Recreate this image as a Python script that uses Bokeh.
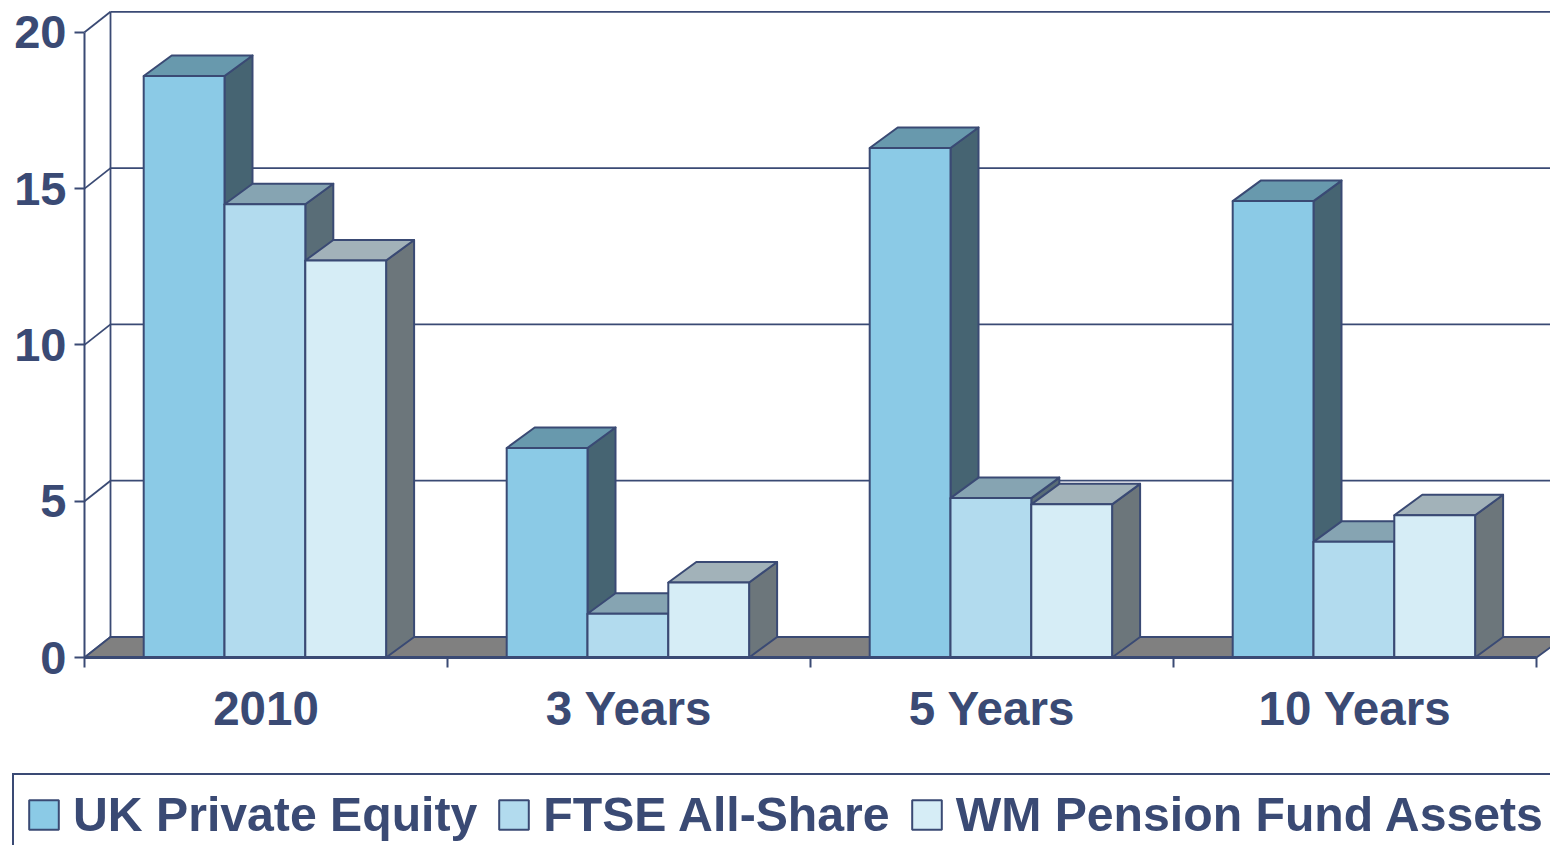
from bokeh.plotting import figure
from bokeh.embed import file_html
from bokeh.resources import INLINE
from bokeh.models import Range1d, FixedTicker, Legend, LegendItem, LinearAxis

categories = ["2010", "3 Years", "5 Years", "10 Years"]
uk_private_equity = [18.6, 6.7, 16.3, 14.6]
ftse_all_share = [14.5, 1.4, 5.1, 3.7]
wm_pension = [12.7, 2.4, 4.9, 4.55]
series_names = ["UK Private Equity", "FTSE All-Share", "WM Pension Fund Assets"]
value_ticks = [0, 5, 10, 15, 20]

INK = "#3A4A74"
FRONT = ["#8BCAE6", "#B2DBEE", "#D6EDF6"]
TOP = ["#6899AD", "#86A4B2", "#A2B2B9"]
SIDE = ["#466472", "#596D77", "#6C767B"]
FONT = "Liberation Sans"

PX_X = 363.0      # pixels per category
PX_Y = 31.26      # pixels per value unit
X_START = -84 / PX_X
X_END = (1550 - 84) / PX_X
Y_START = (657 - 845) / PX_Y
Y_END = 657 / PX_Y
WALL_DX = 26 / PX_X
DX = 28 / PX_X
DY = 20.5 / PX_Y
BAR_W = 80.8 / PX_X
BAR_OFF = 59.2 / PX_X

p = figure(width=1550, height=845, output_backend="svg", toolbar_location=None,
           x_range=Range1d(X_START, X_END), y_range=Range1d(Y_START, Y_END),
           x_axis_location=None, y_axis_location=None,
           min_border_left=0, min_border_right=0, min_border_top=0, min_border_bottom=0,
           outline_line_color=None, background_fill_color="white", border_fill_color="white")
p.grid.visible = False

# back wall
p.segment([WALL_DX] * len(value_ticks), [v + DY for v in value_ticks],
          [X_END] * len(value_ticks), [v + DY for v in value_ticks],
          line_color=INK, line_width=1.8)
p.segment([WALL_DX], [DY], [WALL_DX], [value_ticks[-1] + DY], line_color=INK, line_width=1.8)
p.segment([0] * len(value_ticks), value_ticks, [WALL_DX] * len(value_ticks),
          [v + DY for v in value_ticks], line_color=INK, line_width=1.8)

# floor
n = len(categories)
p.patch([0, WALL_DX, n + DX, n], [0, DY, DY, 0], fill_color="#808080", line_color=INK, line_width=1.8)

items = []
for s, vals in enumerate([uk_private_equity, ftse_all_share, wm_pension]):
    left = [i + BAR_OFF + s * BAR_W for i in range(n)]
    right = [x + BAR_W for x in left]
    p.patches([[r, r + DX, r + DX, r] for r in right],
              [[0, DY, v + DY, v] for v in vals],
              fill_color=SIDE[s], line_color=INK, line_width=2, line_join="round")
    p.patches([[l, l + DX, r + DX, r] for l, r in zip(left, right)],
              [[v, v + DY, v + DY, v] for v in vals],
              fill_color=TOP[s], line_color=INK, line_width=2, line_join="round")
    front = p.quad(left=left, right=right, bottom=[0] * n, top=vals,
                   fill_color=FRONT[s], line_color=INK, line_width=2)
    items.append(LegendItem(label=series_names[s], renderers=[front]))

# axes pinned at the zero lines
ya = LinearAxis(fixed_location=0)
ya.ticker = FixedTicker(ticks=value_ticks)
ya.bounds = (value_ticks[0], value_ticks[-1])
ya.axis_line_color = INK
ya.axis_line_width = 2
ya.major_tick_line_color = INK
ya.major_tick_line_width = 2
ya.major_tick_out = 10
ya.major_tick_in = 0
ya.minor_tick_line_color = None
ya.major_label_standoff = 8
ya.major_label_text_font = FONT
ya.major_label_text_font_style = "bold"
ya.major_label_text_font_size = "47px"
ya.major_label_text_color = INK
p.add_layout(ya, "left")

xa = LinearAxis(fixed_location=0)
centers = [i + 0.5 for i in range(n)]
xa.ticker = FixedTicker(ticks=centers, minor_ticks=list(range(n + 1)))
xa.major_label_overrides = {c: t for c, t in zip(centers, categories)}
xa.bounds = (0, n)
xa.axis_line_color = INK
xa.axis_line_width = 3
xa.major_tick_line_color = None
xa.major_tick_out = 0
xa.major_tick_in = 0
xa.minor_tick_line_color = INK
xa.minor_tick_line_width = 2
xa.minor_tick_out = 10
xa.minor_tick_in = 0
xa.major_label_standoff = 14
xa.major_label_text_font = FONT
xa.major_label_text_font_style = "bold"
xa.major_label_text_font_size = "47.5px"
xa.major_label_text_color = INK
p.add_layout(xa, "below")

legend = Legend(items=items, orientation="horizontal", location=(12, -10),
                glyph_width=37, glyph_height=37, label_standoff=11, spacing=18,
                padding=11, margin=0, border_line_color=INK, border_line_width=2,
                border_line_alpha=1,
                background_fill_color="white", background_fill_alpha=1,
                label_text_font=FONT, label_text_font_style="bold",
                label_text_font_size="48.2px", label_text_color=INK,
                label_text_line_height=1.1)
p.add_layout(legend, "center")

open("out.html", "w").write(file_html(p, INLINE))
